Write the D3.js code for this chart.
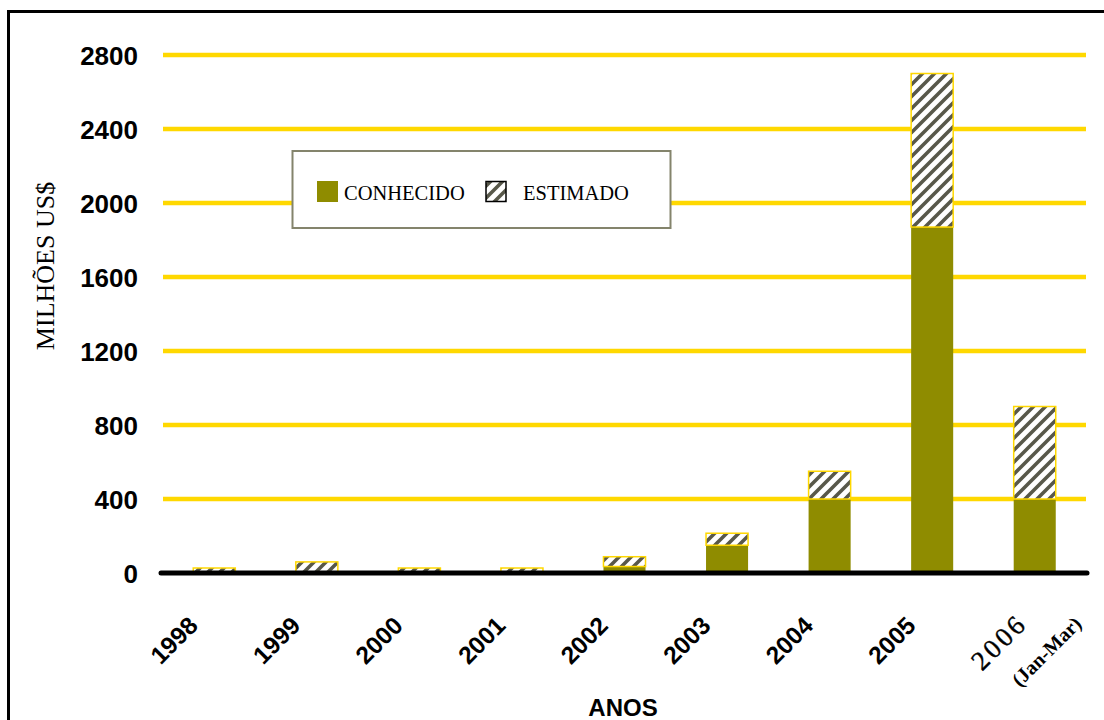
<!DOCTYPE html>
<html>
<head>
<meta charset="utf-8">
<script src="https://cdn.jsdelivr.net/npm/d3@7"></script>
<style>
  html, body { margin: 0; padding: 0; background: #fff; }
  svg { display: block; }
</style>
</head>
<body>
<svg id="chart" width="1104" height="720"></svg>
<script>
// Years on the x axis
const years = ["1998", "1999", "2000", "2001", "2002", "2003", "2004", "2005", "2006"];
// Known amounts (millions US$)
const conhecido = [5, 5, 5, 5, 35, 150, 400, 1870, 400];
// Estimated amount on top of the known part (millions US$)
const estimado = [22, 55, 22, 22, 53, 65, 150, 830, 500];
// Y axis ticks
const yTicks = [0, 400, 800, 1200, 1600, 2000, 2400, 2800];

const svg = d3.select("#chart");
const OLIVE = "#8f8c00";
const GOLD = "#ffd800";

// Outer frame
svg.append("rect")
  .attr("x", 8.5).attr("y", 11.5)
  .attr("width", 1200).attr("height", 800)
  .attr("fill", "#fff").attr("stroke", "#000").attr("stroke-width", 3);

// Diagonal hatch pattern for the estimated part
const defs = svg.append("defs");
const pat = defs.append("pattern")
  .attr("id", "hatch")
  .attr("patternUnits", "userSpaceOnUse")
  .attr("width", 12).attr("height", 12);
pat.append("rect").attr("width", 12).attr("height", 12).attr("fill", "#fff");
pat.append("path")
  .attr("d", "M-3,3 L3,-3 M0,12 L12,0 M9,15 L15,9")
  .attr("stroke", "#58584a").attr("stroke-width", 3.6);

const x = d3.scaleBand()
  .domain(years)
  .range([163, 1086])
  .paddingInner(0.59)
  .paddingOuter(0.295);

const y = d3.scaleLinear()
  .domain([0, 2800])
  .range([573, 55]);

// Yellow gridlines
svg.append("g")
  .selectAll("line")
  .data(yTicks.filter(d => d > 0))
  .join("line")
  .attr("x1", 163).attr("x2", 1086)
  .attr("y1", d => y(d)).attr("y2", d => y(d))
  .attr("stroke", GOLD).attr("stroke-width", 4.5);

// Y axis tick labels
const yAxis = d3.axisLeft(y).tickValues(yTicks).tickSize(0).tickPadding(0).tickFormat(d3.format("d"));
const gy = svg.append("g").attr("transform", "translate(138,0)").call(yAxis);
gy.select(".domain").remove();
gy.selectAll("text")
  .attr("font-family", "Liberation Sans, Arial, sans-serif")
  .attr("font-weight", "bold")
  .attr("font-size", 26)
  .attr("fill", "#000")
  .attr("dy", "0.36em");

// Known bars
svg.append("g")
  .selectAll("rect")
  .data(years)
  .join("rect")
  .attr("x", d => x(d))
  .attr("width", x.bandwidth())
  .attr("y", (d, i) => y(conhecido[i]))
  .attr("height", (d, i) => y(0) - y(conhecido[i]))
  .attr("fill", OLIVE);

// Estimated bars stacked above
svg.append("g")
  .selectAll("rect")
  .data(years)
  .join("rect")
  .attr("x", d => x(d))
  .attr("width", x.bandwidth())
  .attr("y", (d, i) => y(conhecido[i] + estimado[i]))
  .attr("height", (d, i) => y(conhecido[i]) - y(conhecido[i] + estimado[i]))
  .attr("fill", "url(#hatch)")
  .attr("stroke", GOLD).attr("stroke-width", 1.5);

// Zero baseline
svg.append("line")
  .attr("x1", 161).attr("x2", 1087)
  .attr("y1", y(0)).attr("y2", y(0))
  .attr("stroke", "#000").attr("stroke-width", 5)
  .attr("stroke-linecap", "round");

// X axis labels (rotated)
const xl = svg.append("g");
years.forEach((yr, i) => {
  const cx = x(yr) + x.bandwidth() / 2;
  if (yr !== "2006") {
    xl.append("text")
      .attr("transform", `translate(${cx - 15},${y(0) + 54}) rotate(-45)`)
      .attr("text-anchor", "end")
      .attr("font-family", "Liberation Sans, Arial, sans-serif")
      .attr("font-weight", "bold")
      .attr("font-size", 24.5)
      .attr("fill", "#000")
      .text(yr);
  } else {
    xl.append("text")
      .attr("transform", `translate(${cx - 6},${y(0) + 52}) rotate(-45)`)
      .attr("text-anchor", "end")
      .attr("font-family", "Liberation Serif, Times New Roman, serif")
      .attr("font-size", 27)
      .attr("letter-spacing", 3)
      .attr("stroke", "#000").attr("stroke-width", 0.4)
      .attr("fill", "#000")
      .text(yr);
    xl.append("text")
      .attr("transform", `translate(${cx + 48},${y(0) + 52}) rotate(-45)`)
      .attr("text-anchor", "end")
      .attr("font-family", "Liberation Serif, Times New Roman, serif")
      .attr("font-weight", "bold")
      .attr("font-size", 20)
      .attr("fill", "#000")
      .text("(Jan-Mar)");
  }
});

// X axis title
svg.append("text")
  .attr("x", 623).attr("y", 716)
  .attr("text-anchor", "middle")
  .attr("font-family", "Liberation Sans, Arial, sans-serif")
  .attr("font-weight", "bold")
  .attr("font-size", 24)
  .attr("fill", "#000")
  .text("ANOS");

// Y axis title
svg.append("text")
  .attr("transform", "translate(54,266) rotate(-90)")
  .attr("text-anchor", "middle")
  .attr("font-family", "Liberation Serif, Times New Roman, serif")
  .attr("font-size", 26)
  .attr("fill", "#000")
  .text("MILHÕES US$");

// Legend
const lg = svg.append("g");
lg.append("rect")
  .attr("x", 292.5).attr("y", 151)
  .attr("width", 378).attr("height", 77)
  .attr("fill", "#fff")
  .attr("stroke", "#84846c").attr("stroke-width", 2);
lg.append("rect")
  .attr("x", 317).attr("y", 181).attr("width", 21).attr("height", 21)
  .attr("fill", OLIVE);
lg.append("text")
  .attr("x", 344).attr("y", 200)
  .attr("font-family", "Liberation Serif, Times New Roman, serif")
  .attr("font-size", 20.5)
  .attr("fill", "#000")
  .text("CONHECIDO");
lg.append("rect")
  .attr("x", 486).attr("y", 181.5).attr("width", 20).attr("height", 20)
  .attr("fill", "url(#hatch)")
  .attr("stroke", "#000").attr("stroke-width", 1.5);
lg.append("text")
  .attr("x", 523).attr("y", 200)
  .attr("font-family", "Liberation Serif, Times New Roman, serif")
  .attr("font-size", 20.5)
  .attr("fill", "#000")
  .text("ESTIMADO");
</script>
</body>
</html>
